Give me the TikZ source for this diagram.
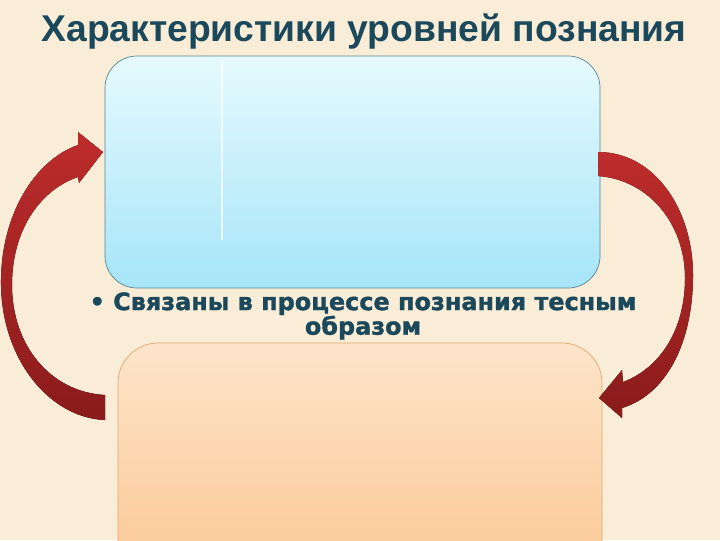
\documentclass[tikz,border=0pt]{standalone}
\usepackage{fontspec}
\newfontfamily\headfont{Liberation Sans}
\newfontfamily\heavyfont[BoldFeatures={FakeBold=1.3}]{DejaVu Sans}
\usetikzlibrary{positioning}

\definecolor{paper}{RGB}{249,237,215}
\definecolor{ink}{RGB}{27,73,91}
\definecolor{bluetop}{RGB}{230,250,254}
\definecolor{bluebot}{RGB}{166,229,249}
\definecolor{blueline}{RGB}{88,132,146}
\definecolor{orangetop}{RGB}{253,228,202}
\definecolor{orangebot}{RGB}{252,200,148}
\definecolor{orangeline}{RGB}{226,168,110}
\definecolor{redtop}{RGB}{190,44,44}
\definecolor{redbot}{RGB}{138,27,27}

\tikzset{
	bluebox/.style={top color=bluetop, bottom color=bluebot, draw=blueline, line width=0.5pt, rounded corners=0.8cm},
	orangebox/.style={top color=orangetop, bottom color=orangebot, draw=orangeline, line width=0.5pt, rounded corners=1cm},
	bendarrow/.style={top color=redtop, bottom color=redbot, draw=none},
	headline/.style={text=ink, font=\headfont\fontsize{26.5}{30}\selectfont\bfseries},
	bulletline/.style={text=ink, align=center, font=\heavyfont\fontsize{17}{17.5}\selectfont\bfseries}
}

\begin{document}
\begin{tikzpicture}[x=0.025cm,y=-0.025cm]
				\useasboundingbox (0,0) rectangle (720,540);
				\clip (0,0) rectangle (720,540);
				\fill[paper] (0,0) rectangle (720,540);
				
				%% title
				\node[headline] (title) at (364,31) {Характеристики уровней познания};
				
				%% upper box
				\draw[bluebox] (105,56) rectangle (600,288);
				\draw[white, opacity=0.7, line width=1pt] (222,60) -- (222,240);
				
				%% lower box
				\draw[orangebox] (118,343) rectangle (602,580);
				
				%% text between boxes
				\node[bulletline] (link) at (363,316) {• Связаны в процессе познания тесным\\образом};
				
				%% left arrow (up)
				\fill[bendarrow] (105,420) .. controls (50,418) and (2,360) .. (1,285)
					.. controls (0,215) and (35,160) .. (78,145) -- (78,132) -- (103,152) -- (79,183) -- (78,177)
					.. controls (40,190) and (12,230) .. (12,285)
					.. controls (12,345) and (50,392) .. (105,395) -- cycle;
				
				%% right arrow (down)
				\fill[bendarrow] (598,152) .. controls (655,152) and (693,210) .. (693,275)
					.. controls (693,345) and (665,395) .. (622,408) -- (622,418) -- (599,398) -- (622,370) -- (623,382)
					.. controls (660,368) and (685,330) .. (685,278)
					.. controls (685,225) and (650,180) .. (598,176) -- cycle;
\end{tikzpicture}
\end{document}
